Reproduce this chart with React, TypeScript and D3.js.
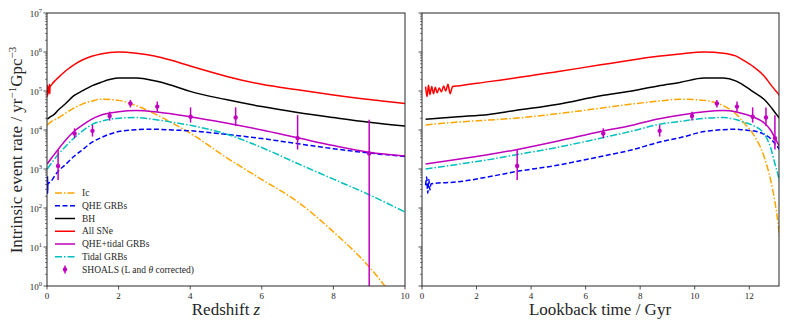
import React from "react";
import * as d3 from "d3";

// redshift grid shared by all model curves
const zGrid = [0.01, 0.1, 0.2, 0.3, 0.5, 0.75, 1, 1.25, 1.5, 2, 2.5, 3, 3.5, 4, 5, 6, 7, 8, 9, 10];

const icRate = [1.35e4, 1.6e4, 1.8e4, 2.0e4, 2.63e4, 3.63e4, 4.68e4, 5.5e4, 6.17e4, 5.75e4, 4.17e4, 2.63e4, 1.51e4, 8.3e3, 2.0e3, 537, 145, 24.5, 3.1, 0.2];
const qheRate = [380, 468, 631, 851, 1260, 2090, 3160, 4790, 6310, 9120, 10200, 10500, 10000, 9550, 7760, 6030, 4470, 3310, 2570, 2090];
const bhRate = [1.9e4, 2.19e4, 2.51e4, 3.16e4, 4.57e4, 7.59e4, 1.02e5, 1.35e5, 1.66e5, 2.14e5, 2.14e5, 1.82e5, 1.38e5, 9.77e4, 6.03e4, 3.98e4, 2.82e4, 2.09e4, 1.58e4, 1.26e4];
const sneRate = [1.1e5, 1.35e5, 1.74e5, 2.14e5, 3.16e5, 4.68e5, 6.31e5, 7.76e5, 8.91e5, 1.0e6, 9.33e5, 7.94e5, 6.03e5, 4.37e5, 2.4e5, 1.48e5, 1.07e5, 7.94e4, 6.03e4, 4.79e4];
const mixRate = [1350, 1780, 2340, 3090, 5250, 9120, 1.35e4, 1.91e4, 2.4e4, 2.95e4, 3.16e4, 2.95e4, 2.57e4, 2.19e4, 1.51e4, 1.0e4, 6310, 3980, 2690, 2140];
const tidalRate = [1000, 1320, 1740, 2290, 3630, 6170, 9550, 1.38e4, 1.66e4, 2.0e4, 2.09e4, 1.86e4, 1.58e4, 1.32e4, 7940, 3550, 1380, 550, 219, 79];

// noisy low-redshift parts of All SNe and QHE GRBs
const sneNoiseZ = [0.01, 0.014, 0.018, 0.022, 0.027, 0.032, 0.037, 0.042, 0.048, 0.054, 0.06, 0.066, 0.072, 0.078, 0.085];
const sneNoise = [1.3e5, 7.2e4, 1.4e5, 8e4, 1.3e5, 8.5e4, 1.25e5, 9e4, 1.2e5, 9.5e4, 1.35e5, 1.0e5, 1.5e5, 8.5e4, 1.3e5];
const qheNoiseZ = [0.01, 0.013, 0.016, 0.019, 0.022, 0.025];
const qheNoise = [380, 620, 240, 540, 290, 420];

// SHOALS points
const shoalsZ = [0.31, 0.77, 1.27, 1.75, 2.33, 3.08, 4.01, 5.27, 7.0, 9.0];
const shoalsRate = [1200, 8100, 9500, 22900, 47900, 39800, 21900, 20900, 6200, 2500];
const shoalsHi = [3100, 11000, 13500, 29500, 58900, 53700, 38000, 38000, 24000, 18200];
const shoalsLo = [525, 6200, 6800, 17400, 38000, 29500, 15500, 12600, 3160, 0];

// redshift -> lookback time (Gyr)
const lbZ = [0, 0.1, 0.2, 0.3, 0.5, 0.75, 1, 1.25, 1.5, 2, 2.5, 3, 4, 5, 6, 7, 8, 9, 10];
const lbT = [0, 1.32, 2.45, 3.41, 5.0, 6.55, 7.75, 8.65, 9.45, 10.35, 11.05, 11.5, 12.12, 12.55, 12.78, 12.94, 13.09, 13.2, 13.28];

const zTicks = [0, 2, 4, 6, 8, 10];
const tTicks = [0, 2, 4, 6, 8, 10, 12];
const yExp = [0, 1, 2, 3, 4, 5, 6, 7];

const series = [
  { label: "Ic", z: zGrid, v: icRate, color: "#ffa500", dash: "7,2,1.5,2" },
  { label: "QHE GRBs", z: qheNoiseZ.concat(zGrid.slice(1)), v: qheNoise.concat(qheRate.slice(1)), color: "#0000ff", dash: "5,2.5" },
  { label: "BH", z: zGrid, v: bhRate, color: "#000000", dash: null },
  { label: "All SNe", z: sneNoiseZ.concat(zGrid.slice(1)), v: sneNoise.concat(sneRate.slice(1)), color: "#ff0000", dash: null },
  { label: "QHE+tidal GRBs", z: zGrid, v: mixRate, color: "#bf00bf", dash: null },
  { label: "Tidal GRBs", z: zGrid, v: tidalRate, color: "#00bfbf", dash: "7,2,1.5,2" },
];

const TOP = 13;
const BOT = 286;
const FONT = { fontFamily: '"Liberation Serif", "DejaVu Serif", serif' };
const AXIS = "#262626";
const SHOALS_C = "#bf00bf";

const y = d3.scaleLog().domain([1, 1e7]).range([BOT, TOP]);
const xz = d3.scaleLinear().domain([0, 10]).range([47, 405]);
const tOfZ = d3.scaleLinear().domain(lbZ).range(lbT);
const xt = d3.scaleLinear().domain([0, 13.09]).range([422, 779]);

const minorTicks: number[] = [];
yExp.slice(0, -1).forEach((e) => {
  for (let m = 2; m < 10; m++) minorTicks.push(m * Math.pow(10, e));
});

function Panel({ id, xs, fx, ticks, showY }: { id: string; xs: any; fx: (z: number) => number; ticks: number[]; showY: boolean }) {
  const [x0, x1] = xs.range();
  const line = (s: any) =>
    d3
      .line<number>()
      .x((z) => fx(z))
      .y((_, i) => y(Math.max(s.v[i], 0.05)))
      .curve(d3.curveMonotoneX)(s.z);
  return (
    <g>
      <defs>
        <clipPath id={id}>
          <rect x={x0} y={TOP} width={x1 - x0} height={BOT - TOP} />
        </clipPath>
      </defs>
      <g clipPath={`url(#${id})`}>
        {series.map((s) => (
          <path key={s.label} d={line(s) || ""} fill="none" stroke={s.color} strokeWidth={1.5} strokeDasharray={s.dash || undefined} />
        ))}
        {shoalsZ.map((z, i) => (
          <g key={i}>
            <line x1={fx(z)} x2={fx(z)} y1={y(shoalsHi[i])} y2={y(Math.max(shoalsLo[i], 0.5))} stroke={SHOALS_C} strokeWidth={1.5} />
            <circle cx={fx(z)} cy={y(shoalsRate[i])} r={2.2} fill={SHOALS_C} />
          </g>
        ))}
      </g>
      <rect x={x0} y={TOP} width={x1 - x0} height={BOT - TOP} fill="none" stroke={AXIS} strokeWidth={1} />
      {yExp.map((e) => (
        <g key={e}>
          <line x1={x0} x2={x0 - 3.5} y1={y(Math.pow(10, e))} y2={y(Math.pow(10, e))} stroke={AXIS} strokeWidth={0.8} />
          {showY && (
            <text x={x0 - 5} y={y(Math.pow(10, e)) + 3.5} textAnchor="end" fontSize={9} fill={AXIS} style={FONT}>
              10<tspan dy={-4} fontSize={6.5}>{e}</tspan>
            </text>
          )}
        </g>
      ))}
      {minorTicks.map((v) => (
        <line key={v} x1={x0} x2={x0 - 2} y1={y(v)} y2={y(v)} stroke={AXIS} strokeWidth={0.6} />
      ))}
      {ticks.map((t) => (
        <g key={t}>
          <line x1={xs(t)} x2={xs(t)} y1={BOT} y2={BOT + 3.5} stroke={AXIS} strokeWidth={0.8} />
          <text x={xs(t)} y={BOT + 13} textAnchor="middle" fontSize={9} fill={AXIS} style={FONT}>
            {t}
          </text>
        </g>
      ))}
    </g>
  );
}

export default function App() {
  const legendY0 = 196;
  const legendStep = 12.75;
  const legendRows = [...series.map((s) => s.label), "SHOALS"];
  return (
    <div style={{ position: "fixed", left: 0, top: 0 }}>
      <svg width={789} height={329} style={{ display: "block", background: "#fff" }}>
        <Panel id="clipL" xs={xz} fx={(z) => xz(z)} ticks={zTicks} showY={true} />
        <Panel id="clipR" xs={xt} fx={(z) => xt(tOfZ(z))} ticks={tTicks} showY={false} />

        <g style={FONT} fill="#262626">
          {legendRows.map((label, i) => {
            const ly = legendY0 + i * legendStep;
            const s = series[i];
            return (
              <g key={label}>
                {s ? (
                  <line x1={55} x2={75} y1={ly - 3} y2={ly - 3} stroke={s.color} strokeWidth={1.5} strokeDasharray={s.dash || undefined} />
                ) : (
                  <g>
                    <line x1={65} x2={65} y1={ly - 7} y2={ly + 1} stroke={SHOALS_C} strokeWidth={1.5} />
                    <circle cx={65} cy={ly - 3} r={2.2} fill={SHOALS_C} />
                  </g>
                )}
                <text x={82} y={ly} fontSize={9.5} style={FONT}>
                  {s ? (
                    label
                  ) : (
                    <>
                      SHOALS (L and <tspan fontStyle="italic">θ</tspan> corrected)
                    </>
                  )}
                </text>
              </g>
            );
          })}

          <text x={226} y={315} textAnchor="middle" fontSize={17} style={FONT}>
            Redshift <tspan fontStyle="italic">z</tspan>
          </text>
          <text x={600} y={315} textAnchor="middle" fontSize={17} style={FONT}>
            Lookback time / Gyr
          </text>
          <text transform="translate(22,150) rotate(-90)" textAnchor="middle" fontSize={17} style={FONT}>
            Intrinsic event rate / yr<tspan dy={-6} fontSize={11}>−1</tspan>
            <tspan dy={6}>Gpc</tspan>
            <tspan dy={-6} fontSize={11}>−3</tspan>
          </text>
        </g>
      </svg>
    </div>
  );
}
